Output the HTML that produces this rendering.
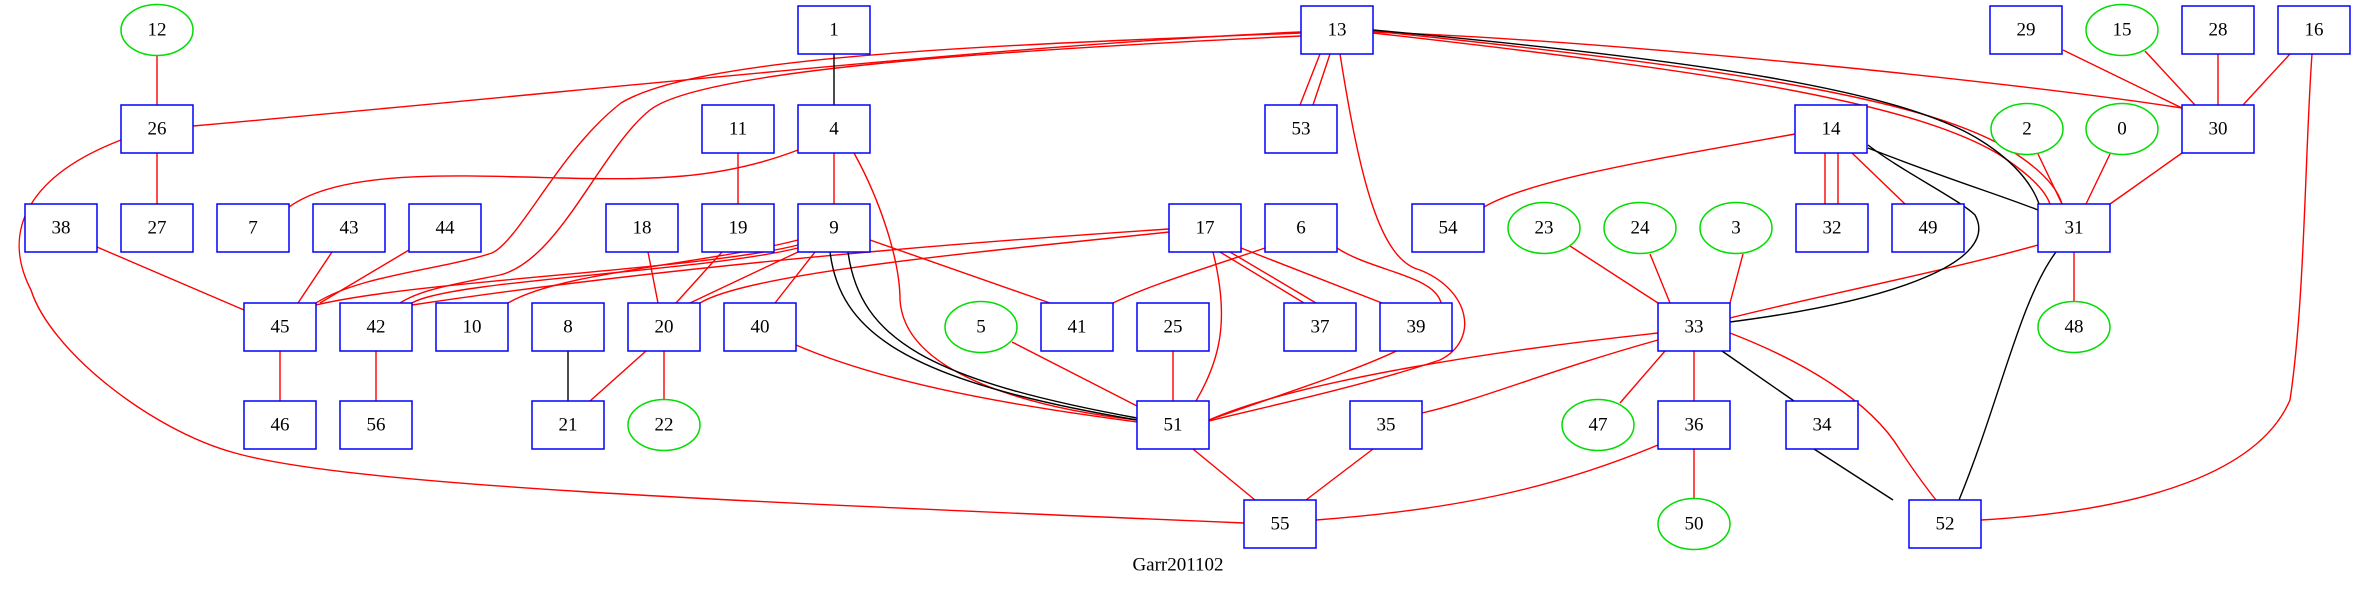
<!DOCTYPE html>
<html><head><meta charset="utf-8"><style>
html,body{margin:0;padding:0;background:#fff;}
svg{display:block;}
text{font-family:"Liberation Serif",serif;font-size:19px;text-anchor:middle;dominant-baseline:central;fill:#000;}
.b{fill:#fff;stroke:#0000ff;stroke-width:1.5;}
.c{fill:#fff;stroke:#00dd00;stroke-width:1.5;}
.r{fill:none;stroke:#ff0000;stroke-width:1.4;}
.k{fill:none;stroke:#000;stroke-width:1.4;}
</style></head><body>
<svg width="2356" height="591" viewBox="0 0 2356 591" xmlns="http://www.w3.org/2000/svg">
<g class="r">
<path d="M157,56 L157,105"/>
<path d="M157,153 L157,204"/>
<path d="M193,126 C600,90 1000,45 1301,32"/>
<path d="M121,140 C30,175 0,230 31,290 C50,350 150,430 235,453 C350,485 700,500 1244,523"/>
<path d="M1301,33 C1000,45 700,55 621,103 C560,150 520,240 492,253 C440,270 360,275 316,303"/>
<path d="M1301,36 C1000,50 700,70 650,110 C600,150 560,260 500,275 C450,285 420,290 400,303"/>
<path d="M798,150 C720,180 650,180 560,178 C450,175 340,170 289,207"/>
<path d="M834,153 L834,204"/>
<path d="M854,153 C880,200 900,260 900,300 C905,380 1050,410 1137,420"/>
<path d="M738,153 L738,204"/>
<path d="M798,245 C700,270 420,280 316,305"/>
<path d="M798,248 C700,272 450,280 412,303"/>
<path d="M1169,229 C1000,240 700,262 412,305"/>
<path d="M1169,232 C1000,250 750,272 700,303"/>
<path d="M798,240 C700,265 560,272 508,303"/>
<path d="M798,252 L690,303"/>
<path d="M815,252 L775,303"/>
<path d="M870,240 L1050,303"/>
<path d="M1213,252 C1230,320 1220,360 1196,401"/>
<path d="M1220,252 L1304,303"/>
<path d="M1230,252 L1316,303"/>
<path d="M1241,248 L1382,303"/>
<path d="M1265,248 C1200,270 1150,285 1113,303"/>
<path d="M1337,248 C1370,270 1430,275 1440,300 C1460,340 1350,370 1209,420"/>
<path d="M1340,54 C1360,180 1380,260 1420,270 C1470,290 1480,340 1440,360 C1350,390 1250,410 1209,421"/>
<path d="M1320,54 L1300,105"/>
<path d="M1330,54 L1313,105"/>
<path d="M1373,32 C1600,40 2000,80 2182,108"/>
<path d="M1373,31 C1700,65 1920,95 2010,150 C2045,172 2058,190 2062,204"/>
<path d="M1373,33 C1700,70 1910,100 2000,155 C2030,175 2045,190 2050,204"/>
<path d="M1795,134 C1650,160 1530,180 1484,207"/>
<path d="M1825,153 L1825,204"/>
<path d="M1838,153 L1838,204"/>
<path d="M1852,153 L1905,204"/>
<path d="M2063,50 L2182,108"/>
<path d="M2145,51 L2195,105"/>
<path d="M2218,54 L2218,105"/>
<path d="M2290,54 L2243,105"/>
<path d="M2312,54 C2305,150 2305,300 2290,400 C2260,470 2150,510 1981,520"/>
<path d="M2038,154 L2062,204"/>
<path d="M2110,154 L2086,204"/>
<path d="M2182,153 L2110,204"/>
<path d="M2074,252 L2074,301"/>
<path d="M2038,245 C1950,270 1800,300 1730,318"/>
<path d="M1570,246 L1658,303"/>
<path d="M1650,254 L1670,303"/>
<path d="M1743,254 L1730,303"/>
<path d="M1658,333 C1500,350 1300,380 1209,420"/>
<path d="M1658,340 C1550,370 1480,400 1422,413"/>
<path d="M1665,351 L1620,403"/>
<path d="M1694,351 L1694,401"/>
<path d="M1730,333 C1800,360 1870,400 1900,450 C1920,480 1932,495 1936,500"/>
<path d="M1694,449 L1694,499"/>
<path d="M1658,445 C1550,490 1450,510 1316,520"/>
<path d="M1193,449 L1255,500"/>
<path d="M1373,449 L1306,500"/>
<path d="M97,247 L244,310"/>
<path d="M332,252 L298,303"/>
<path d="M409,250 L320,303"/>
<path d="M280,351 L280,401"/>
<path d="M376,351 L376,401"/>
<path d="M646,351 L590,401"/>
<path d="M664,351 L664,400"/>
<path d="M648,252 L658,303"/>
<path d="M722,252 L676,303"/>
<path d="M796,345 C900,390 1050,410 1137,422"/>
<path d="M1012,342 L1137,406"/>
<path d="M1173,351 L1173,401"/>
</g>
<g class="k">
<path d="M834,54 L834,105"/>
<path d="M830,252 C840,330 900,380 1137,420"/>
<path d="M848,252 C860,340 930,380 1137,418"/>
<path d="M1373,30 C1700,60 1900,90 1980,140 C2020,165 2035,190 2040,207"/>
<path d="M1868,148 C1950,180 2000,195 2038,210"/>
<path d="M1868,145 C1900,170 1960,200 1975,215 C2000,260 1900,300 1730,322"/>
<path d="M2056,252 C2020,300 2000,400 1959,500"/>
<path d="M1722,351 L1794,401"/>
<path d="M1814,449 L1893,500"/>
<path d="M568,351 L568,401"/>
</g>
<g>
<rect class="b" x="798" y="6" width="72" height="48"/><text x="834" y="30">1</text>
<rect class="b" x="1301" y="6" width="72" height="48"/><text x="1337" y="30">13</text>
<rect class="b" x="1990" y="6" width="72" height="48"/><text x="2026" y="30">29</text>
<rect class="b" x="2182" y="6" width="72" height="48"/><text x="2218" y="30">28</text>
<rect class="b" x="2278" y="6" width="72" height="48"/><text x="2314" y="30">16</text>
<rect class="b" x="121" y="105" width="72" height="48"/><text x="157" y="129">26</text>
<rect class="b" x="702" y="105" width="72" height="48"/><text x="738" y="129">11</text>
<rect class="b" x="798" y="105" width="72" height="48"/><text x="834" y="129">4</text>
<rect class="b" x="1265" y="105" width="72" height="48"/><text x="1301" y="129">53</text>
<rect class="b" x="1795" y="105" width="72" height="48"/><text x="1831" y="129">14</text>
<rect class="b" x="2182" y="105" width="72" height="48"/><text x="2218" y="129">30</text>
<rect class="b" x="25" y="204" width="72" height="48"/><text x="61" y="228">38</text>
<rect class="b" x="121" y="204" width="72" height="48"/><text x="157" y="228">27</text>
<rect class="b" x="217" y="204" width="72" height="48"/><text x="253" y="228">7</text>
<rect class="b" x="313" y="204" width="72" height="48"/><text x="349" y="228">43</text>
<rect class="b" x="409" y="204" width="72" height="48"/><text x="445" y="228">44</text>
<rect class="b" x="606" y="204" width="72" height="48"/><text x="642" y="228">18</text>
<rect class="b" x="702" y="204" width="72" height="48"/><text x="738" y="228">19</text>
<rect class="b" x="798" y="204" width="72" height="48"/><text x="834" y="228">9</text>
<rect class="b" x="1169" y="204" width="72" height="48"/><text x="1205" y="228">17</text>
<rect class="b" x="1265" y="204" width="72" height="48"/><text x="1301" y="228">6</text>
<rect class="b" x="1412" y="204" width="72" height="48"/><text x="1448" y="228">54</text>
<rect class="b" x="1796" y="204" width="72" height="48"/><text x="1832" y="228">32</text>
<rect class="b" x="1892" y="204" width="72" height="48"/><text x="1928" y="228">49</text>
<rect class="b" x="2038" y="204" width="72" height="48"/><text x="2074" y="228">31</text>
<rect class="b" x="244" y="303" width="72" height="48"/><text x="280" y="327">45</text>
<rect class="b" x="340" y="303" width="72" height="48"/><text x="376" y="327">42</text>
<rect class="b" x="436" y="303" width="72" height="48"/><text x="472" y="327">10</text>
<rect class="b" x="532" y="303" width="72" height="48"/><text x="568" y="327">8</text>
<rect class="b" x="628" y="303" width="72" height="48"/><text x="664" y="327">20</text>
<rect class="b" x="724" y="303" width="72" height="48"/><text x="760" y="327">40</text>
<rect class="b" x="1041" y="303" width="72" height="48"/><text x="1077" y="327">41</text>
<rect class="b" x="1137" y="303" width="72" height="48"/><text x="1173" y="327">25</text>
<rect class="b" x="1284" y="303" width="72" height="48"/><text x="1320" y="327">37</text>
<rect class="b" x="1380" y="303" width="72" height="48"/><text x="1416" y="327">39</text>
<rect class="b" x="1658" y="303" width="72" height="48"/><text x="1694" y="327">33</text>
<rect class="b" x="244" y="401" width="72" height="48"/><text x="280" y="425">46</text>
<rect class="b" x="340" y="401" width="72" height="48"/><text x="376" y="425">56</text>
<rect class="b" x="532" y="401" width="72" height="48"/><text x="568" y="425">21</text>
<rect class="b" x="1137" y="401" width="72" height="48"/><text x="1173" y="425">51</text>
<rect class="b" x="1350" y="401" width="72" height="48"/><text x="1386" y="425">35</text>
<rect class="b" x="1658" y="401" width="72" height="48"/><text x="1694" y="425">36</text>
<rect class="b" x="1786" y="401" width="72" height="48"/><text x="1822" y="425">34</text>
<rect class="b" x="1244" y="500" width="72" height="48"/><text x="1280" y="524">55</text>
<rect class="b" x="1909" y="500" width="72" height="48"/><text x="1945" y="524">52</text>
<ellipse class="c" cx="157" cy="30" rx="36" ry="25.5"/><text x="157" y="30">12</text>
<ellipse class="c" cx="2122" cy="30" rx="36" ry="25.5"/><text x="2122" y="30">15</text>
<ellipse class="c" cx="2027" cy="129" rx="36" ry="25.5"/><text x="2027" y="129">2</text>
<ellipse class="c" cx="2122" cy="129" rx="36" ry="25.5"/><text x="2122" y="129">0</text>
<ellipse class="c" cx="1544" cy="228" rx="36" ry="25.5"/><text x="1544" y="228">23</text>
<ellipse class="c" cx="1640" cy="228" rx="36" ry="25.5"/><text x="1640" y="228">24</text>
<ellipse class="c" cx="1736" cy="228" rx="36" ry="25.5"/><text x="1736" y="228">3</text>
<ellipse class="c" cx="981" cy="327" rx="36" ry="25.5"/><text x="981" y="327">5</text>
<ellipse class="c" cx="2074" cy="327" rx="36" ry="25.5"/><text x="2074" y="327">48</text>
<ellipse class="c" cx="664" cy="425" rx="36" ry="25.5"/><text x="664" y="425">22</text>
<ellipse class="c" cx="1598" cy="425" rx="36" ry="25.5"/><text x="1598" y="425">47</text>
<ellipse class="c" cx="1694" cy="524" rx="36" ry="25.5"/><text x="1694" y="524">50</text>
</g>
<text x="1178" y="565">Garr201102</text>
</svg>
</body></html>
